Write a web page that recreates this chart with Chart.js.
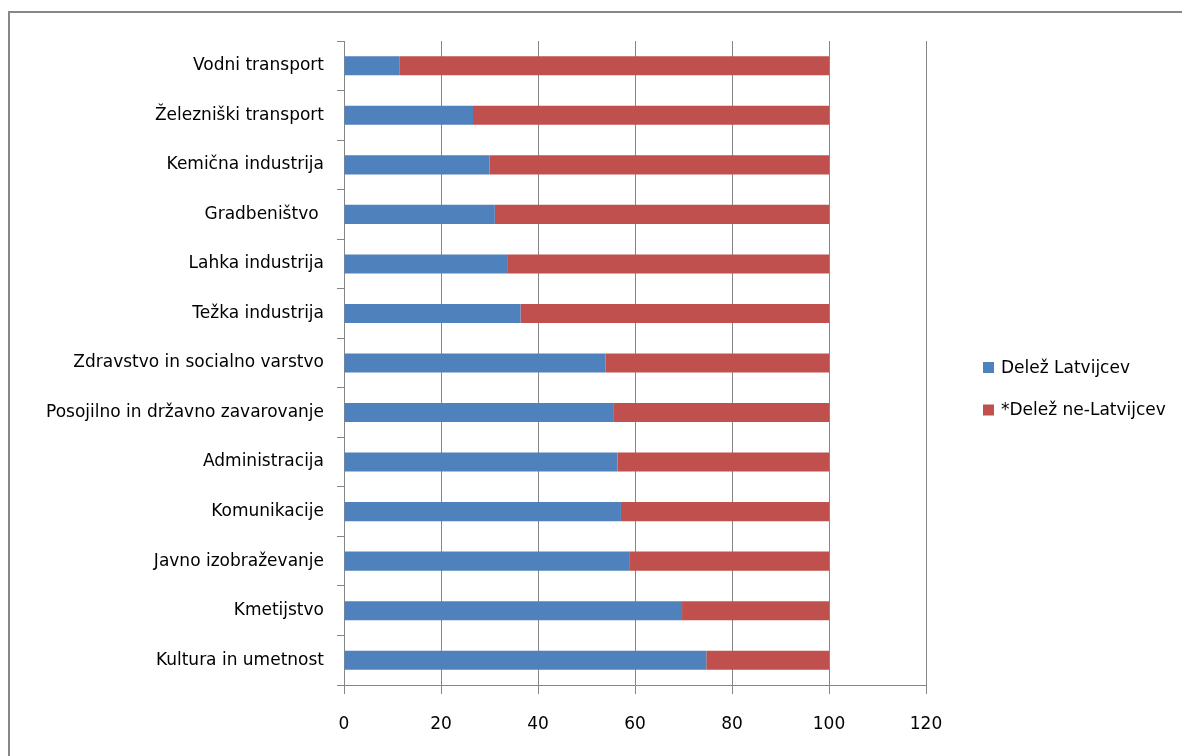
<!DOCTYPE html>
<html>
<head>
<meta charset="utf-8">
<script src="https://cdn.jsdelivr.net/npm/chart.js@4"></script>
<style>
  html, body { margin: 0; padding: 0; background: #fff; overflow: hidden; }
  #frame { position: absolute; left: 8px; top: 11px; width: 1300px; height: 900px;
           border-left: 2px solid #878787; border-top: 2px solid #878787; }
  #c { position: absolute; left: 0; top: 0; }
</style>
</head>
<body>
<div id="frame"></div>
<canvas id="c" width="1182" height="756"></canvas>
<script>
// categories, top to bottom
var categories = [
  "Vodni transport",
  "Železniški transport",
  "Kemična industrija",
  "Gradbeništvo ",
  "Lahka industrija",
  "Težka industrija",
  "Zdravstvo in socialno varstvo",
  "Posojilno in državno zavarovanje",
  "Administracija",
  "Komunikacije",
  "Javno izobraževanje",
  "Kmetijstvo",
  "Kultura in umetnost"
];
var latvians    = [11.5, 26.6, 30.0, 31.1, 33.8, 36.4, 53.9, 55.5, 56.4, 57.1, 58.8, 69.7, 74.7];
var nonLatvians = [88.5, 73.4, 70.0, 68.9, 66.2, 63.6, 46.1, 44.5, 43.6, 42.9, 41.2, 30.3, 25.3];
var seriesNames = ["Delež Latvijcev", "*Delež ne-Latvijcev"];
var xTicks = [0, 20, 40, 60, 80, 100, 120];

var gridColor = "#868686";
var font = {family: "'DejaVu Sans', sans-serif", size: 17};

// legend drawn on the right, like the Excel one
var sideLegend = {
  id: "sideLegend",
  afterDraw: function(chart) {
    var ctx = chart.ctx;
    var x0 = chart.chartArea.right + 57;
    ctx.save();
    ctx.font = "17px 'DejaVu Sans', sans-serif";
    ctx.textBaseline = "middle";
    ctx.textAlign = "left";
    chart.data.datasets.forEach(function(ds, i) {
      var y = 367.5 + i * 42.5;
      ctx.fillStyle = ds.backgroundColor;
      ctx.fillRect(x0, y - 5.5, 11, 11);
      ctx.fillStyle = "#000";
      ctx.fillText(ds.label, x0 + 18, y + 1);
    });
    ctx.restore();
  }
};

new Chart(document.getElementById("c"), {
  type: "bar",
  data: {
    labels: categories,
    datasets: [
      {label: seriesNames[0], data: latvians, backgroundColor: "#4F81BD",
       barPercentage: 0.385, categoryPercentage: 1},
      {label: seriesNames[1], data: nonLatvians, backgroundColor: "#C0504D",
       barPercentage: 0.385, categoryPercentage: 1}
    ]
  },
  options: {
    indexAxis: "y",
    responsive: false,
    animation: false,
    layout: {padding: {top: 41, left: 0, right: 256, bottom: 0}},
    plugins: {legend: {display: false}, tooltip: {enabled: false}},
    scales: {
      x: {
        stacked: true,
        min: 0, max: 120,
        afterBuildTicks: function(axis) { axis.ticks = xTicks.map(function(v) { return {value: v}; }); },
        afterFit: function(axis) { axis.height = 71; },
        grid: {color: gridColor, lineWidth: 1, tickLength: 9},
        border: {color: gridColor, width: 1},
        ticks: {color: "#000", font: font, padding: 20, maxRotation: 0}
      },
      y: {
        stacked: true,
        afterFit: function(axis) { axis.width = 344; },
        grid: {color: gridColor, drawOnChartArea: false, tickLength: 7, offset: true},
        border: {color: gridColor, width: 1},
        ticks: {color: "#000", font: font, padding: 13, autoSkip: false}
      }
    }
  },
  plugins: [sideLegend]
});
</script>
</body>
</html>
